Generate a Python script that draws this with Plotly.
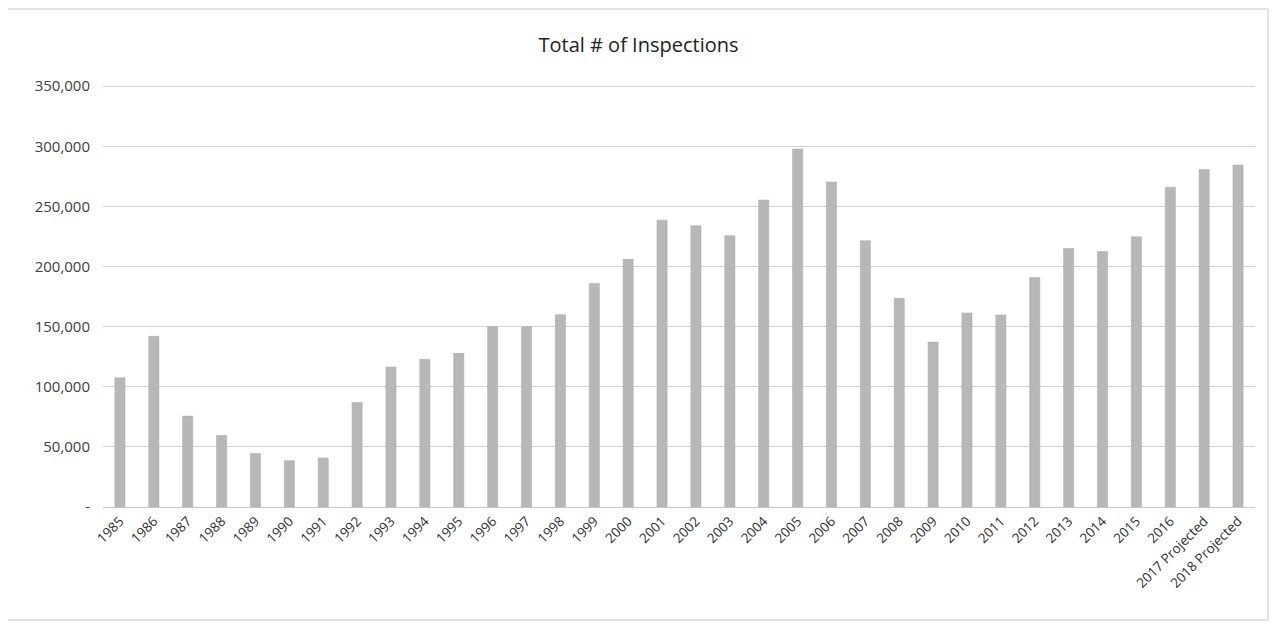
import plotly.graph_objects as go

years = [str(y) for y in range(1985, 2017)] + ["2017 Projected", "2018 Projected"]
inspections = [107500, 142000, 75600, 59500, 44500, 38500, 40800, 87000, 116400, 122800,
               127800, 150000, 150000, 160000, 186000, 206000, 238600, 233900, 225600, 255300,
               297800, 270300, 221400, 173600, 137200, 161400, 159700, 190800, 215000, 212500,
               224700, 266000, 280800, 284400]
tick_vals = [0, 50000, 100000, 150000, 200000, 250000, 300000, 350000]
tick_text = ["-", "50,000", "100,000", "150,000", "200,000", "250,000", "300,000", "350,000"]

W, H = 1261, 613
L, R, T, B = 95, 14, 77, 114
pw, ph = W - L - R, H - T - B

fig = go.Figure(go.Bar(
    x=years, y=inspections,
    marker=dict(color="#b7b7b7", line=dict(color="#a9a9a9", width=0.5)),
))

fig.update_layout(
    width=W, height=H,
    paper_bgcolor="white", plot_bgcolor="white",
    margin=dict(l=L, r=R, t=T, b=B),
    bargap=0.7,
    showlegend=False,
    title=dict(text="Total # of Inspections", x=0.5, xanchor="center", y=1 - 37 / H, yanchor="middle",
               font=dict(family="Open Sans, Liberation Sans, sans-serif", size=20, color="#222222")),
    font=dict(family="Open Sans, Liberation Sans, sans-serif", size=13, color="#404040"),
)
fig.update_yaxes(range=[0, 351000], tickvals=tick_vals, ticktext=tick_text,
                 showgrid=True, gridcolor="#d0d0d0", gridwidth=1, zeroline=False,
                 ticks="", ticklen=0, showline=False, automargin=False,
                 ticklabelstandoff=12,
                 tickfont=dict(size=15, color="#404040"))
fig.update_xaxes(tickangle=-45, showline=True, linecolor="#c8c8c8", linewidth=1,
                 ticks="", automargin=False, tickfont=dict(size=13.5, color="#303030"))
# outer chart border
fig.add_shape(type="rect", xref="paper", yref="paper",
              x0=(-1 - L) / pw, x1=(W - 1 - L) / pw,
              y0=-(B - 1) / ph, y1=(ph + T - 1) / ph,
              line=dict(color="#c8c8c8", width=1), fillcolor="rgba(0,0,0,0)")

fig.write_html("out.html")
